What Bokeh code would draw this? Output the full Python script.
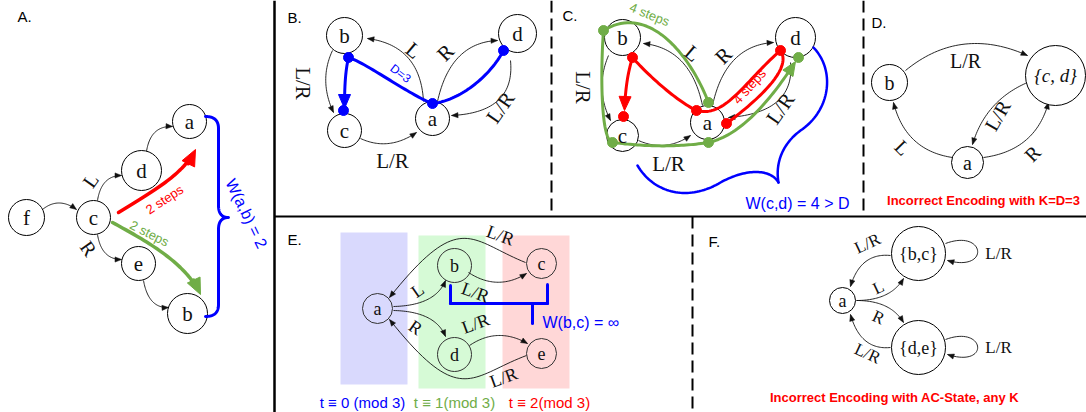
import numpy as np
from bokeh.plotting import figure
from bokeh.models import Range1d
from bokeh.core.properties import value
from bokeh.embed import file_html
from bokeh.resources import INLINE

H = 412
SERIF = "Liberation Serif"
SANS = "Liberation Sans"
RED, GREEN, BLUE = "#ff0000", "#70ad47", "#0000ff"

# ---------------- data (image pixel coordinates, y measured from top) ----------------
# nodes: label, x, y, radius
A_nodes = [("f", 26, 217, 18), ("c", 93, 217, 17), ("d", 141, 170, 20),
           ("a", 189, 121, 17), ("e", 138, 263, 17), ("b", 187, 313, 20)]
B_nodes = [("b", 344, 35, 18), ("d", 517, 33, 19), ("c", 344, 130, 17), ("a", 432, 118, 17)]
C_nodes = [("b", 622, 37, 18), ("d", 795, 37, 20), ("c", 622, 135, 16), ("a", 707, 122, 17)]
D_nodes = [("b", 889, 82, 18), ("{c, d}", 1055, 75, 30), ("a", 967, 162, 16)]
E_nodes = [("a", 377, 308, 15), ("b", 454, 265, 17), ("c", 541, 263, 15),
           ("d", 454, 354, 17), ("e", 541, 353, 15)]
F_nodes = [("{b,c}", 918, 253, 27), ("{d,e}", 918, 347, 27), ("a", 842, 300, 13)]

# black edges (quadratic: 3 points, cubic: 4 points); arrow at the end
A_edges = [[(42, 209), (58, 196), (76, 209)],
           [(97, 200), (101, 175), (121, 175)],
           [(146, 151), (150, 125), (172, 126)],
           [(97, 234), (101, 259), (121, 259)],
           [(143, 280), (148, 308), (168, 307)]]
B_edges = [[(423, 101), (420, 45), (367, 38)],
           [(437, 101), (450, 42), (497, 40)],
           [(510, 60), (515, 112), (451, 115)],
           [(332, 50), (318, 80), (333, 112)],
           [(360, 138), (388, 151), (416, 132)]]
C_edges = [[(702, 105), (690, 48), (643, 43)],
           [(712, 105), (725, 45), (773, 42)],
           [(790, 62), (795, 112), (728, 117)],
           [(608, 55), (594, 88), (610, 120)],
           [(638, 140), (665, 152), (690, 135)]]
D_edges = [[(905, 70), (960, 25), (1027, 55)],
           [(1027, 82), (985, 100), (972, 144)],
           [(952, 157), (905, 150), (893, 102)],
           [(983, 157), (1035, 150), (1048, 102)]]
E_edges = [[(393, 306), (435, 305), (445, 280)],
           [(393, 310), (435, 311), (445, 336)],
           [(468, 272), (497, 291), (526, 273)],
           [(469, 345), (497, 326), (527, 343)],
           [(525, 262), (470, 240), (460, 208), (389, 297)],
           [(526, 355), (470, 376), (460, 408), (389, 319)]]
F_edges = [[(890, 255), (860, 252), (850, 286)],
           [(856, 300), (890, 300), (903, 278)],
           [(856, 300), (890, 300), (903, 322)],
           [(890, 347), (860, 350), (850, 314)],
           [(945, 243), (985, 228), (990, 272), (947, 260)],
           [(945, 339), (985, 324), (990, 368), (947, 354)]]

# edge labels: text, x, y, angle (deg), font size (px)
edge_labels = [
    ("L", 90, 180, 55, 20), ("R", 88, 248, -55, 20),
    ("L", 413, 50, -40, 21), ("R", 445, 52, 45, 21), ("L/R", 500, 107, 55, 21),
    ("L/R", 302, 83, -90, 21), ("L/R", 392, 160, 0, 21),
    ("L", 692, 53, -40, 21), ("R", 723, 55, 45, 21), ("L/R", 780, 108, 55, 21),
    ("L/R", 582, 87, -90, 21), ("L/R", 668, 163, 0, 21),
    ("L/R", 965, 60, 0, 20), ("L/R", 997, 115, 60, 20), ("L", 902, 147, -45, 20), ("R", 1032, 153, 45, 20),
    ("L", 417, 290, 35, 18), ("R", 415, 327, -35, 18), ("L/R", 475, 292, -20, 18),
    ("L/R", 500, 235, -20, 18), ("L/R", 475, 323, 20, 18), ("L/R", 503, 377, 20, 18),
    ("L/R", 867, 243, 25, 17), ("L", 878, 287, 25, 17), ("R", 878, 317, -25, 17),
    ("L/R", 867, 353, -25, 17), ("L/R", 998, 253, 0, 17), ("L/R", 998, 347, 0, 17),
]

# coloured paths: lists of bezier segments
A_red = [[(118, 212), (150, 192), (182, 175), (195, 149)]]
A_green = [[(112, 222), (145, 240), (185, 262), (200, 294)]]
A_brace = [[(205, 116), (218, 116), (218, 128)], [(218, 128), (218, 205)],
           [(218, 205), (218, 217), (228, 217)], [(228, 217), (218, 217), (218, 229)],
           [(218, 229), (218, 304)], [(218, 304), (218, 316), (205, 316)]]
B_blue = [[(348, 57), (365, 62), (410, 95), (432, 103)],
          [(432, 103), (460, 100), (490, 75), (503, 50)]]
B_blue_arrow = [[(348, 57), (345, 70), (344, 85), (344, 108)]]
C_red = [[(632, 57), (645, 72), (675, 100), (696, 110)],
         [(696, 110), (725, 118), (745, 80), (780, 50)],
         [(780, 50), (790, 65), (770, 90), (726, 123)]]
C_red_arrow = [[(632, 57), (628, 70), (625, 85), (624, 110)]]
C_green = [[(708, 102), (690, 55), (648, 2), (603, 30)],
           [(603, 30), (600, 70), (600, 140), (612, 142)],
           [(612, 142), (645, 146), (675, 147), (708, 142)]]
C_green_arrow = [[(708, 142), (740, 135), (770, 100), (795, 61)]]
C_blue_left = [[(637, 165), (655, 195), (690, 200), (720, 182)],
               [(720, 182), (745, 168), (770, 168), (778, 182)]]
C_blue_right = [[(813, 47), (835, 70), (830, 110), (800, 130)],
                [(800, 130), (780, 145), (775, 165), (778, 182)]]
E_brace = [[(450, 285), (450, 303)], [(450, 303), (547, 303)], [(547, 303), (547, 284)],
           [(532, 303), (532, 323)]]

B_dots = [(348, 57), (343, 110), (432, 103), (503, 50)]
C_red_dots = [(632, 57), (623, 116), (696, 110), (780, 50), (726, 123)]
C_green_dots = [(603, 30), (612, 142), (708, 142), (708, 102), (798, 57)]

# shaded time bands in E: left, right, top, bottom, colour
E_bands = [(340, 407, 232, 384, "#d9d9fd"), (418, 485, 235, 388, "#d6fad6"), (502, 569, 235, 388, "#ffd7d7")]

panel_labels = [("A.", 17, 16), ("B.", 287, 17), ("C.", 562, 15), ("D.", 871, 22), ("E.", 287, 239), ("F.", 708, 241)]

# sans texts: text, x, y, angle, size, colour, bold, align
notes = [
    ("2 steps", 164, 199, 33, 13, RED, False, "center"),
    ("2 steps", 149, 233, -27, 13, GREEN, False, "center"),
    ("W(a,b) = 2", 246, 213, -64, 16, BLUE, False, "center"),
    ("D=3", 400, 73, -37, 12, BLUE, False, "center"),
    ("4 steps", 749, 86, 48, 13, RED, False, "center"),
    ("4 steps", 649, 14, -22, 13, GREEN, False, "center"),
    ("W(c,d) = 4 > D", 797, 203, 0, 16, BLUE, False, "center"),
    ("Incorrect Encoding with K=D=3", 983, 200, 0, 13, RED, True, "center"),
    ("W(b,c) = \u221e", 542, 322, 0, 16, BLUE, False, "left"),
    ("t \u2261 0 (mod 3)", 362, 402, 0, 15, BLUE, False, "center"),
    ("t \u2261 1(mod 3)", 454, 402, 0, 15, GREEN, False, "center"),
    ("t \u2261 2(mod 3)", 549, 402, 0, 15, RED, False, "center"),
    ("Incorrect Encoding with AC-State, any K", 894, 397, 0, 13, RED, True, "center"),
]

# panel separators: x0, y0, x1, y1, dashed, width
separators = [(274, 0, 274, 412, False, 2.5), (274, 216, 1086, 216, False, 2),
              (551, 0, 551, 216, True, 2), (863, 0, 863, 216, True, 2), (692, 216, 692, 412, True, 2)]

# ---------------- helpers ----------------
def fy(v):
    return H - np.asarray(v, float)

def to_cubic(seg):
    s = np.asarray(seg, float)
    if len(s) == 2:
        return np.array([s[0], s[0] + (s[1] - s[0]) / 3, s[0] + 2 * (s[1] - s[0]) / 3, s[1]])
    if len(s) == 3:
        return np.array([s[0], s[0] + 2 / 3 * (s[1] - s[0]), s[2] + 2 / 3 * (s[1] - s[2]), s[2]])
    return s

def sample(segs, n=40):
    pts = []
    for seg in segs:
        P = to_cubic(seg)
        t = np.linspace(0, 1, n)[:, None]
        pts.append(((1 - t) ** 3) * P[0] + 3 * ((1 - t) ** 2) * t * P[1] + 3 * (1 - t) * t ** 2 * P[2] + t ** 3 * P[3])
    return np.vstack(pts)

def head(segs, L, W):
    P = to_cubic(segs[-1])
    tip = P[3]
    d = P[3] - P[2]
    if np.hypot(*d) < 1e-6:
        d = P[3] - P[1]
    d = d / np.hypot(*d)
    n = np.array([-d[1], d[0]])
    base = tip - L * d
    return np.array([tip, base + W * n, base - W * n]), base

p = figure(width=1086, height=412, x_range=Range1d(0, 1086), y_range=Range1d(0, 412),
           output_backend="svg", toolbar_location=None, min_border=0,
           x_axis_location=None, y_axis_location=None)
p.grid.visible = False
p.outline_line_color = None
p.background_fill_color = "white"
p.border_fill_color = "white"

# bands
p.quad(left=[b[0] for b in E_bands], right=[b[1] for b in E_bands],
       top=fy([b[2] for b in E_bands]), bottom=fy([b[3] for b in E_bands]),
       fill_color=[b[4] for b in E_bands], line_color=None)

# separators
for x0, y0, x1, y1, dashed, w in separators:
    p.segment(x0=[x0], y0=fy([y0]), x1=[x1], y1=fy([y1]), line_color="black", line_width=w,
              line_dash="12 6" if dashed else "solid")

# black edges with arrowheads
xs, ys, hx, hy = [], [], [], []
for e in A_edges + B_edges + C_edges + D_edges + E_edges + F_edges:
    pts = sample([e])
    tri, base = head([e], 6.5, 2.6)
    xs.append(pts[:, 0]); ys.append(fy(pts[:, 1]))
    hx.append(tri[:, 0]); hy.append(fy(tri[:, 1]))
p.multi_line(xs, ys, line_color="#111111", line_width=0.9)
p.patches(hx, hy, fill_color="#111111", line_color="#111111", line_width=0.5)

# nodes
filled = A_nodes + B_nodes + C_nodes + D_nodes + F_nodes
p.circle(x=[n[1] for n in filled], y=fy([n[2] for n in filled]), radius=[n[3] for n in filled],
         fill_color="white", line_color="black", line_width=1)
p.circle(x=[n[1] for n in E_nodes], y=fy([n[2] for n in E_nodes]), radius=[n[3] for n in E_nodes],
         fill_color=None, line_color="#333333", line_width=1)

# coloured paths
def draw_path(segs, color, width=3, arrow=False, L=14, W=6):
    pts = sample(segs)
    if arrow:
        tri, base = head(segs, L, W)
        dist = np.hypot(pts[:, 0] - tri[0][0], pts[:, 1] - tri[0][1])
        pts = np.vstack([pts[dist >= L * 0.8], base])
        p.patch(tri[:, 0], fy(tri[:, 1]), fill_color=color, line_color=color, line_width=1)
    p.line(pts[:, 0], fy(pts[:, 1]), line_color=color, line_width=width, line_join="round", line_cap="round")

draw_path(A_red, RED, 3.5, True, 16, 7)
draw_path(A_green, GREEN, 3.5, True, 16, 7)
draw_path(A_brace, BLUE, 3)
draw_path(B_blue, BLUE, 3)
draw_path(B_blue_arrow, BLUE, 3, True, 14, 6)
draw_path(C_green, GREEN, 3)
draw_path(C_green_arrow, GREEN, 3, True, 14, 6)
draw_path(C_red, RED, 3)
draw_path(C_red_arrow, RED, 3, True, 14, 6)
draw_path(C_blue_left, BLUE, 2.5)
draw_path(C_blue_right, BLUE, 2.5)
for seg in E_brace:
    draw_path([seg], BLUE, 3)

for dots, col in [(B_dots, BLUE), (C_red_dots, RED), (C_green_dots, GREEN)]:
    p.circle(x=[d[0] for d in dots], y=fy([d[1] for d in dots]), radius=5, fill_color=col, line_color=col)

# node labels
def node_text(nodes, size, style="normal"):
    p.text(x=[n[1] for n in nodes], y=fy([n[2] for n in nodes]), text=[n[0] for n in nodes],
           text_font=value(SERIF), text_font_size=value(size), text_font_style=style,
           text_align="center", text_baseline="middle", text_color="#111111")

node_text(A_nodes, "21px")
node_text(B_nodes, "21px")
node_text(C_nodes, "21px")
node_text([n for n in D_nodes if n[0] != "{c, d}"], "20px")
node_text([n for n in D_nodes if n[0] == "{c, d}"], "19px", "italic")
node_text(E_nodes, "18px")
node_text(F_nodes, "18px")

# edge labels
for sz in sorted(set(l[4] for l in edge_labels)):
    sub = [l for l in edge_labels if l[4] == sz]
    p.text(x=[l[1] for l in sub], y=fy([l[2] for l in sub]), text=[l[0] for l in sub],
           angle=[l[3] for l in sub], angle_units="deg",
           text_font=value(SERIF), text_font_size=value(f"{sz}px"),
           text_align="center", text_baseline="middle", text_color="#111111")

# panel labels
p.text(x=[l[1] for l in panel_labels], y=fy([l[2] for l in panel_labels]), text=[l[0] for l in panel_labels],
       text_font=value(SANS), text_font_size=value("15px"), text_align="left", text_baseline="middle",
       text_color="black")

# notes
for t, x, y, a, sz, col, bold, al in notes:
    p.text(x=[x], y=fy([y]), text=[t], angle=a, angle_units="deg",
           text_font=value(SANS), text_font_size=value(f"{sz}px"),
           text_font_style="bold" if bold else "normal",
           text_align=al, text_baseline="middle", text_color=col)

open("out.html", "w").write(file_html(p, INLINE))
